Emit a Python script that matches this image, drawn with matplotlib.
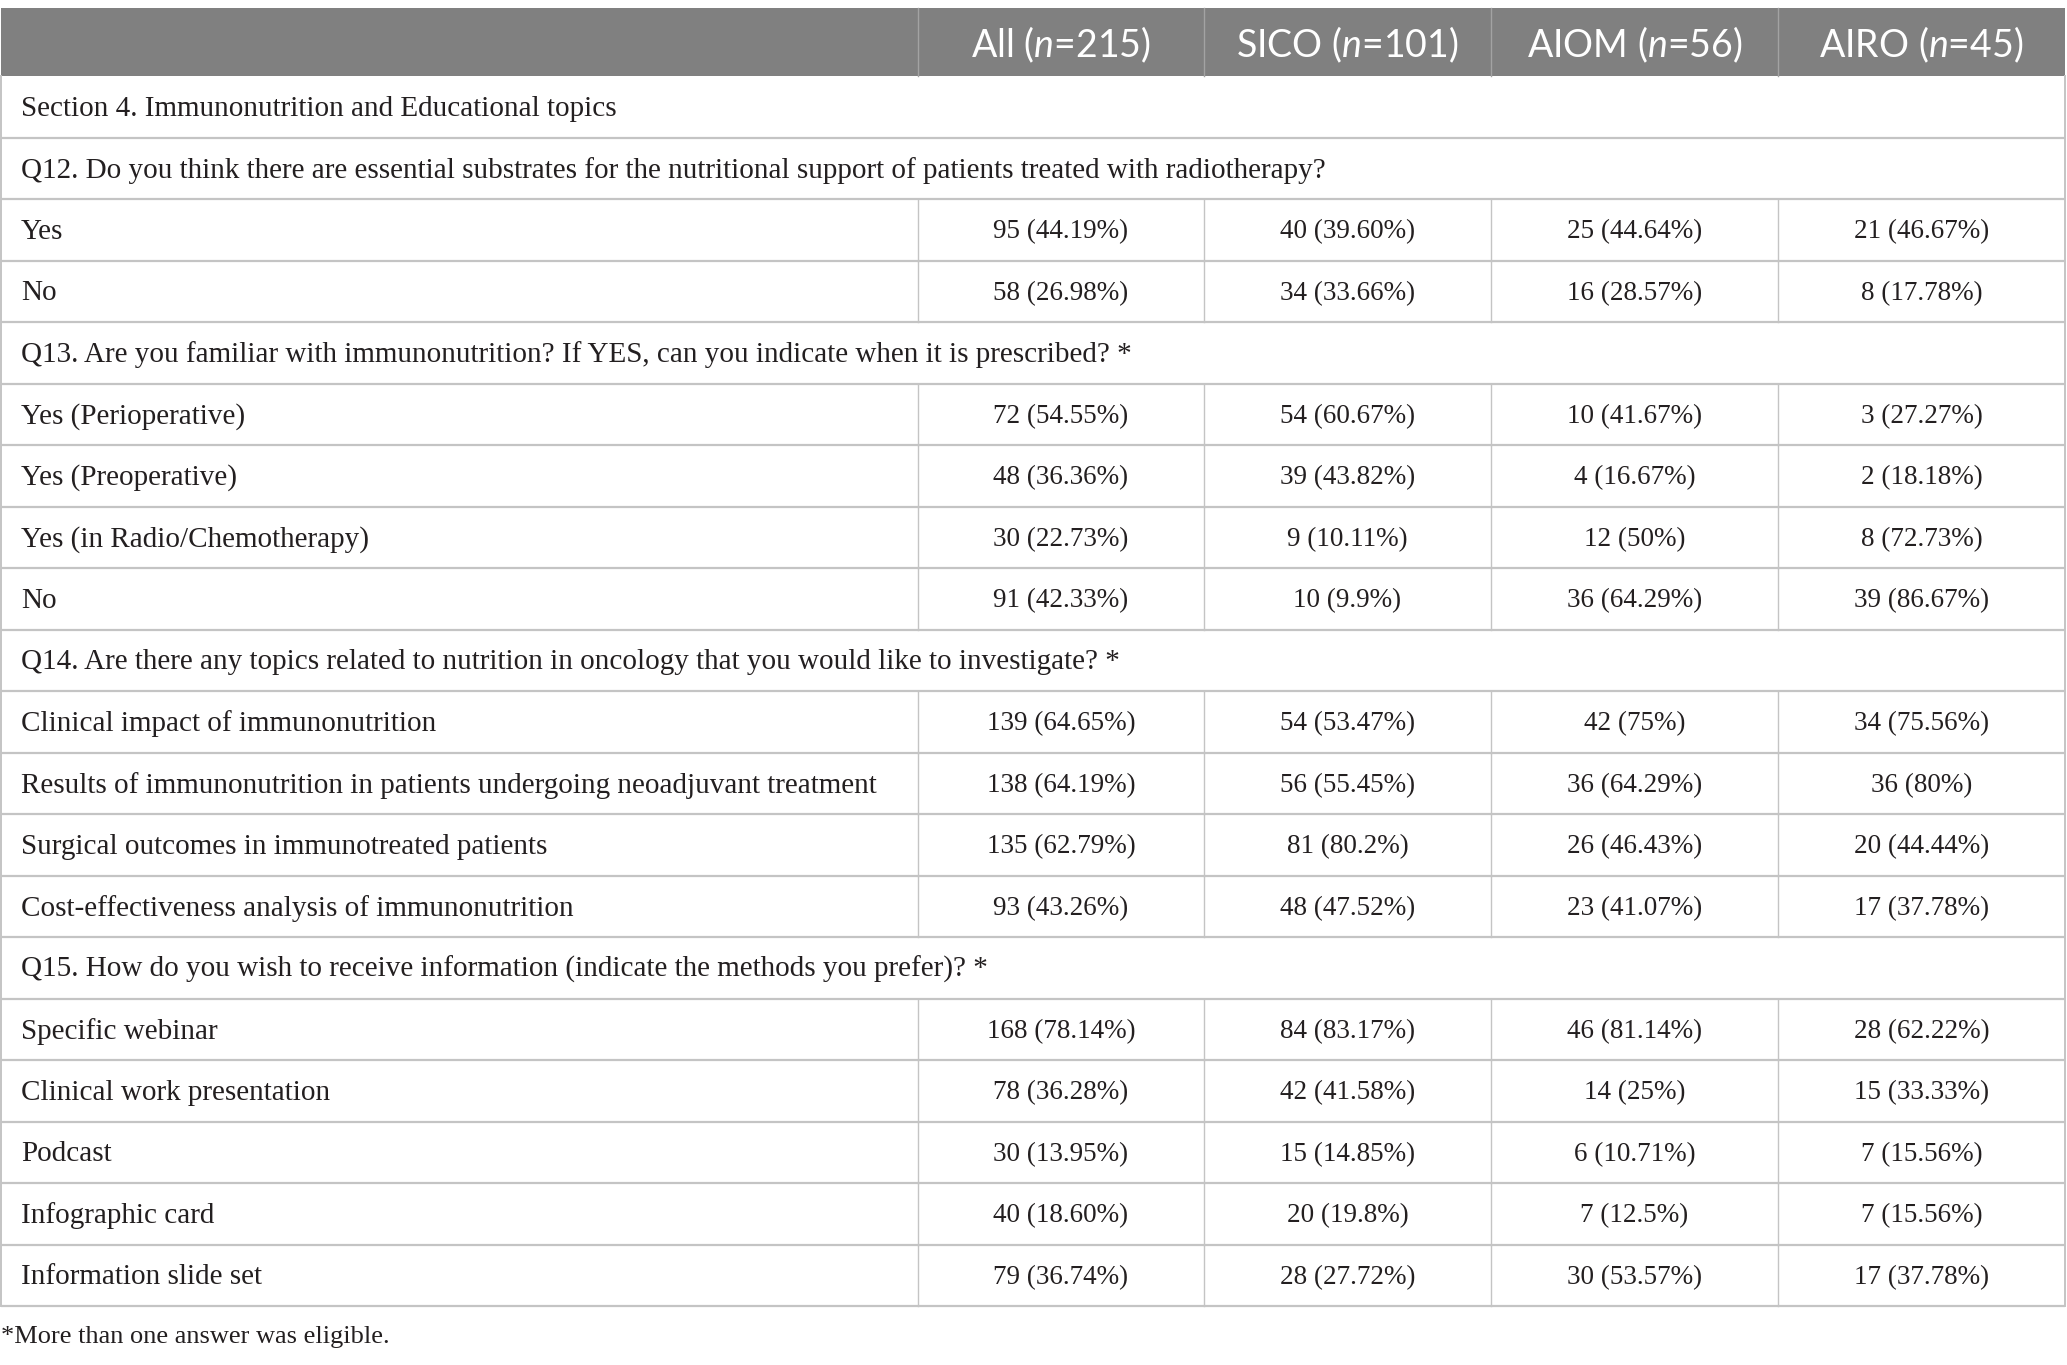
import matplotlib
matplotlib.use("Agg")
import matplotlib.pyplot as plt
from matplotlib.patches import Rectangle

plt.rcParams['mathtext.fontset'] = 'custom'
plt.rcParams['mathtext.rm'] = 'Lato'
plt.rcParams['mathtext.it'] = 'Lato:italic'

# ---------------- data ----------------
headers = ["All ($\\mathit{n}$=215)", "SICO ($\\mathit{n}$=101)",
           "AIOM ($\\mathit{n}$=56)", "AIRO ($\\mathit{n}$=45)"]

row_labels = [
    "Section 4. Immunonutrition and Educational topics",
    "Q12. Do you think there are essential substrates for the nutritional support of patients treated with radiotherapy?",
    "Yes",
    "No",
    "Q13. Are you familiar with immunonutrition? If YES, can you indicate when it is prescribed? *",
    "Yes (Perioperative)",
    "Yes (Preoperative)",
    "Yes (in Radio/Chemotherapy)",
    "No",
    "Q14. Are there any topics related to nutrition in oncology that you would like to investigate? *",
    "Clinical impact of immunonutrition",
    "Results of immunonutrition in patients undergoing neoadjuvant treatment",
    "Surgical outcomes in immunotreated patients",
    "Cost-effectiveness analysis of immunonutrition",
    "Q15. How do you wish to receive information (indicate the methods you prefer)? *",
    "Specific webinar",
    "Clinical work presentation",
    "Podcast",
    "Infographic card",
    "Information slide set",
]

all_vals = [None, None, "95 (44.19%)", "58 (26.98%)", None,
            "72 (54.55%)", "48 (36.36%)", "30 (22.73%)", "91 (42.33%)", None,
            "139 (64.65%)", "138 (64.19%)", "135 (62.79%)", "93 (43.26%)", None,
            "168 (78.14%)", "78 (36.28%)", "30 (13.95%)", "40 (18.60%)", "79 (36.74%)"]
sico_vals = [None, None, "40 (39.60%)", "34 (33.66%)", None,
             "54 (60.67%)", "39 (43.82%)", "9 (10.11%)", "10 (9.9%)", None,
             "54 (53.47%)", "56 (55.45%)", "81 (80.2%)", "48 (47.52%)", None,
             "84 (83.17%)", "42 (41.58%)", "15 (14.85%)", "20 (19.8%)", "28 (27.72%)"]
aiom_vals = [None, None, "25 (44.64%)", "16 (28.57%)", None,
             "10 (41.67%)", "4 (16.67%)", "12 (50%)", "36 (64.29%)", None,
             "42 (75%)", "36 (64.29%)", "26 (46.43%)", "23 (41.07%)", None,
             "46 (81.14%)", "14 (25%)", "6 (10.71%)", "7 (12.5%)", "30 (53.57%)"]
airo_vals = [None, None, "21 (46.67%)", "8 (17.78%)", None,
             "3 (27.27%)", "2 (18.18%)", "8 (72.73%)", "39 (86.67%)", None,
             "34 (75.56%)", "36 (80%)", "20 (44.44%)", "17 (37.78%)", None,
             "28 (62.22%)", "15 (33.33%)", "7 (15.56%)", "7 (15.56%)", "17 (37.78%)"]

footnote = "*More than one answer was eligible."

# ---------------- layout ----------------
W, H = 2067, 1365
fig = plt.figure(figsize=(W / 100, H / 100), dpi=100)
ax = fig.add_axes([0, 0, 1, 1])
ax.set_xlim(0, W)
ax.set_ylim(H, 0)
ax.axis('off')

col_edges = [1, 918, 1204, 1491, 1778, 2065]
top = 8
header_bottom = 76
row_h = (1306 - header_bottom) / len(row_labels)

header_color = '#808080'
line_color = '#c4c4c4'
text_color = '#231f20'
serif = 'Liberation Serif'
label_fs = 21
num_fs = 19.5

# header
ax.add_patch(Rectangle((col_edges[0], top), col_edges[-1] - col_edges[0],
                       header_bottom - top, facecolor=header_color,
                       edgecolor='none', zorder=1))
for x in col_edges[1:-1]:
    ax.plot([x, x], [top, header_bottom], color='#a3a3a3', lw=1.0, zorder=2)
for i, h in enumerate(headers):
    cx = (col_edges[i + 1] + col_edges[i + 2]) / 2
    ax.text(cx, (top + header_bottom) / 2 + 3, h, ha='center', va='center',
            color='white', fontsize=27, family='Lato', zorder=3)

# body rows
columns = [all_vals, sico_vals, aiom_vals, airo_vals]
for r, label in enumerate(row_labels):
    y0 = header_bottom + r * row_h
    y1 = y0 + row_h
    cy = (y0 + y1) / 2 + 2
    ax.text(21, cy, label, ha='left', va='center', fontsize=label_fs,
            family=serif, color=text_color)
    if all_vals[r] is not None:
        for c, vals in enumerate(columns):
            cx = (col_edges[c + 1] + col_edges[c + 2]) / 2
            ax.text(cx, cy, vals[r], ha='center', va='center', fontsize=num_fs,
                    family=serif, color=text_color)
        for x in col_edges[1:-1]:
            ax.plot([x, x], [y0, y1], color=line_color, lw=1.0, zorder=2)
    ax.plot([col_edges[0], col_edges[-1]], [y1, y1], color=line_color,
            lw=1.6, zorder=2, solid_capstyle='butt')

body_bottom = header_bottom + len(row_labels) * row_h
for x in (col_edges[0], col_edges[-1]):
    ax.plot([x, x], [header_bottom, body_bottom], color=line_color, lw=1.4, zorder=2)

ax.text(1, 1337, footnote, ha='left', va='center', fontsize=19,
        family=serif, color=text_color)

fig.savefig('out.png', dpi=100)
